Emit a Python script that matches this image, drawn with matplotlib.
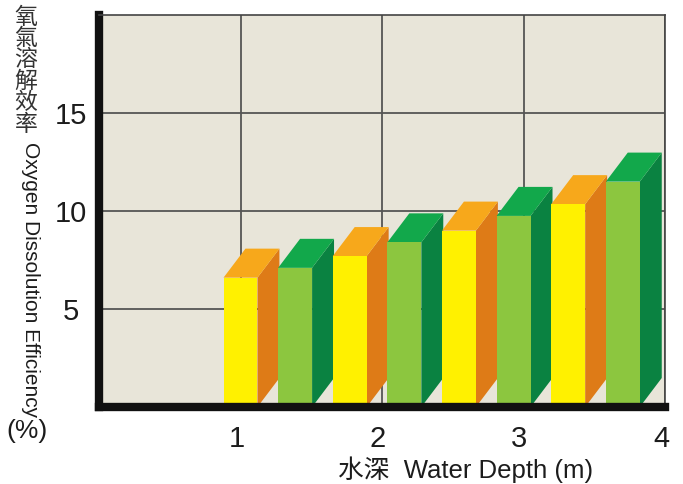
import matplotlib

matplotlib.use("agg")
import matplotlib.pyplot as plt
from matplotlib.transforms import ScaledTranslation

# water depth (m) tick labels and efficiency values
depth_ticks = [1, 2, 3, 4]
depth_labels = ["1", "2", "3", "4"]
yellow_vals = [6.6, 7.7, 9.0, 10.35]
green_vals = [7.1, 8.4, 9.75, 11.5]
eff_ticks = [5, 10, 15]
eff_labels = ["5", "10", "15"]

FRONT = {"y": "#fff100", "g": "#8cc63f"}
TOP = {"y": "#f7a81b", "g": "#12a84b"}
SIDE = {"y": "#de7b17", "g": "#0a8241"}

BAR_W = 0.24
DX = 0.155  # fake depth, x units
DY = 1.48  # fake depth, y units
START = 1.0
STEP = 0.386

plt.rcParams["font.family"] = ["Liberation Sans", "Noto Sans CJK TC", "DejaVu Sans"]
TXT = "#1c1c1c"


def draw_bar3d(ax, x, h, key):
    x0, x1 = x - BAR_W / 2, x + BAR_W / 2
    ax.fill([x1, x1 + DX, x1 + DX, x1], [0, DY, h + DY, h],
            color=SIDE[key], lw=0, zorder=2)
    ax.fill([x0, x1, x1 + DX, x0 + DX], [h, h, h + DY, h + DY],
            color=TOP[key], lw=0, zorder=2)
    ax.bar(x, h, width=BAR_W, color=FRONT[key], lw=0, zorder=2)


fig = plt.figure(figsize=(6.83, 4.84), dpi=100)
ax = fig.add_axes([99 / 683, 77 / 484, 566 / 683, 392 / 484])
ax.set_facecolor("#e8e5d9")

i = 0
for yv, gv in zip(yellow_vals, green_vals):
    draw_bar3d(ax, START + i * STEP, yv, "y")
    i += 1
    draw_bar3d(ax, START + i * STEP, gv, "g")
    i += 1

ax.set_xlim(0, 4)
ax.set_ylim(0, 20)
ax.set_xticks(depth_ticks)
ax.set_xticklabels(depth_labels)
ax.set_yticks(eff_ticks)
ax.set_yticklabels(eff_labels)
ax.set_axisbelow(True)
ax.grid(True, color="#555555", lw=1.3, zorder=0.5)
ax.tick_params(length=0, labelsize=21, colors=TXT)
ax.tick_params(axis="x", pad=13)
ax.tick_params(axis="y", pad=20)
for lab in ax.get_yticklabels():
    lab.set_ha("center")
# labels sit a few pixels left of the grid lines in the original
shift = ScaledTranslation(-0.04, 0, fig.dpi_scale_trans)
for lab in ax.get_xticklabels():
    lab.set_transform(lab.get_transform() + shift)

for side in ["left", "bottom"]:
    ax.spines[side].set_linewidth(6)
    ax.spines[side].set_color("#111111")
for side in ["top", "right"]:
    ax.spines[side].set_linewidth(1.2)
    ax.spines[side].set_color("#444444")

# stacked Chinese title + rotated English y label
cn_chars = "氧氣溶解效率"
for k, ch in enumerate(cn_chars):
    fig.text(26 / 683, 1 - (17 + k * 21.5) / 484, ch, fontsize=16.5,
             ha="center", va="center", color="#333333")
fig.text(30 / 683, 1 - 280 / 484, "Oxygen Dissolution Efficiency",
         rotation=270, fontsize=15, ha="center", va="center", color=TXT)
fig.text(27 / 683, 1 - 431 / 484, "(%)", fontsize=19,
         ha="center", va="center", color=TXT)

fig.text(466 / 683, 1 - 470 / 484, "水深  Water Depth (m)", fontsize=18.5,
         ha="center", va="center", color=TXT)

plt.savefig("out.png", dpi=100)
